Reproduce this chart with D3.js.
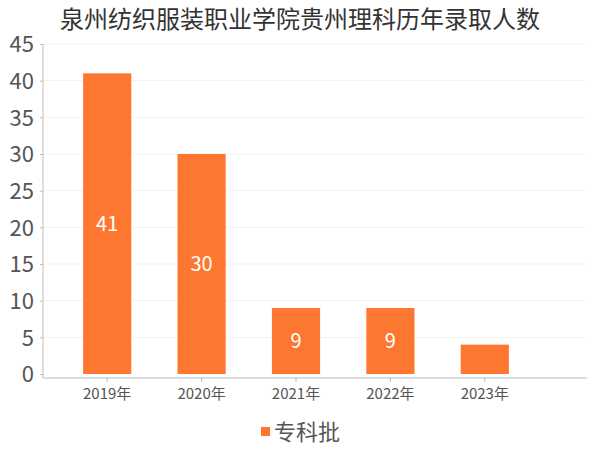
<!DOCTYPE html>
<html lang="zh">
<head>
<meta charset="UTF-8">
<title>泉州纺织服装职业学院贵州理科历年录取人数</title>
<style>
    body { margin: 0; padding: 0; background: #fff; }
    text { font-family: "Noto Sans CJK SC", "Noto Sans", sans-serif; }
</style>
</head>
<body>
<script src="https://d3js.org/d3.v7.min.js"></script>
<script>
    const years = ['2019年', '2020年', '2021年', '2022年', '2023年'];
    const counts = [41, 30, 9, 9, 4];
    const yTicks = [0, 5, 10, 15, 20, 25, 30, 35, 40, 45];
    const seriesName = '专科批';
    const title = '泉州纺织服装职业学院贵州理科历年录取人数';

    const width = 600, height = 450;
    const color = '#fe7731';

    const svg = d3.select('body').append('svg')
        .attr('width', width)
        .attr('height', height);

    const x = d3.scaleBand().domain(years).range([60, 532]).paddingInner(0.49).paddingOuter(0.245);
    const y = d3.scaleLinear().domain([0, 45]).range([374, 44]);

    // title
    svg.append('text')
        .attr('x', 300).attr('y', 28)
        .attr('text-anchor', 'middle')
        .attr('font-size', 24)
        .attr('fill', '#333')
        .text(title);

    // gridlines
    svg.append('g')
        .selectAll('line')
        .data(yTicks.filter(d => d > 0))
        .enter().append('line')
        .attr('x1', 44).attr('x2', 586)
        .attr('y1', d => y(d)).attr('y2', d => y(d))
        .attr('stroke', '#f2f2f2');

    // y axis
    const yAxis = svg.append('g')
        .attr('transform', 'translate(43,0)')
        .call(d3.axisLeft(y).tickValues(yTicks).tickSize(3).tickPadding(6));
    yAxis.select('.domain').attr('stroke', '#bbb').attr('d', 'M0,44V378');
    yAxis.selectAll('.tick line').attr('stroke', '#bbb');
    yAxis.selectAll('.tick text')
        .attr('font-size', 22)
        .attr('fill', '#555')
        .attr('font-family', '"DejaVu Sans", sans-serif')
        .attr('dy', '0.35em');

    // x axis
    const xAxis = svg.append('g')
        .attr('transform', 'translate(0,378)')
        .call(d3.axisBottom(x).tickSize(4).tickPadding(6));
    xAxis.select('.domain').attr('stroke', '#bbb').attr('d', 'M43,0H587');
    xAxis.selectAll('.tick line').attr('stroke', '#bbb');
    xAxis.selectAll('.tick text')
        .attr('font-size', 15)
        .attr('fill', '#555');

    // bars
    svg.append('g')
        .selectAll('rect')
        .data(counts)
        .enter().append('rect')
        .attr('x', (d, i) => x(years[i]))
        .attr('width', x.bandwidth())
        .attr('y', d => y(d))
        .attr('height', d => y(0) - y(d))
        .attr('fill', color);

    // value labels
    svg.append('g')
        .selectAll('text')
        .data(counts)
        .enter().append('text')
        .filter(d => d >= 5)
        .attr('x', (d, i) => x(years[i]) + x.bandwidth() / 2)
        .attr('y', d => (y(d) + y(0)) / 2)
        .attr('dy', '0.35em')
        .attr('text-anchor', 'middle')
        .attr('font-size', 20)
        .attr('font-family', '"DejaVu Sans", sans-serif')
        .attr('fill', '#fff')
        .text(d => d);

    // legend
    const legend = svg.append('g').attr('transform', 'translate(261,432)');
    legend.append('rect')
        .attr('x', 0).attr('y', -5)
        .attr('width', 9).attr('height', 9)
        .attr('fill', color);
    legend.append('text')
        .attr('x', 13).attr('y', 0)
        .attr('dy', '0.35em')
        .attr('font-size', 22)
        .attr('fill', '#555')
        .text(seriesName);
</script>
</body>
</html>
